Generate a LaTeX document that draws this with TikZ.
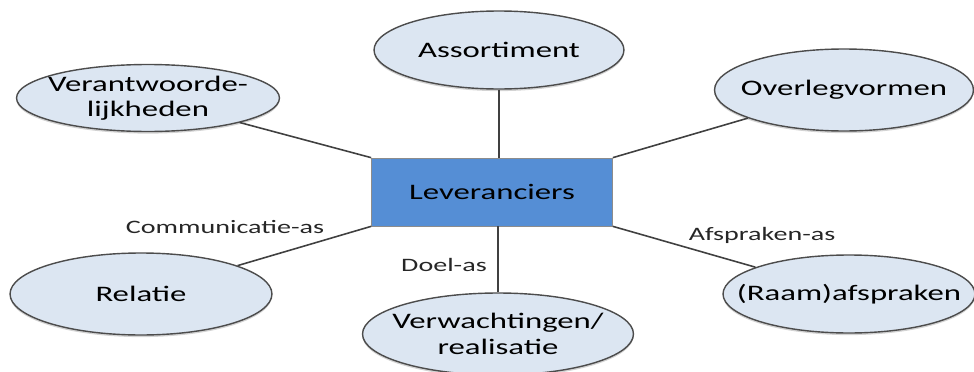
\documentclass[tikz,border=0pt]{standalone}
\usepackage{fontspec}
\setmainfont{Carlito}[FakeStretch=1.48]
\usepackage{tikz}
\usetikzlibrary{shapes.geometric,shadows}
\definecolor{levblue}{RGB}{85,142,213}
\definecolor{bubblefill}{RGB}{220,230,242}

\begin{document}
\begin{tikzpicture}[
  x=0.02cm, y=-0.02cm,
  bubble/.style={ellipse, draw=black!70, line width=0.8pt, fill=bubblefill, inner xsep=-20pt, inner ysep=0pt, align=center, font=\fontsize{12.6}{14.5}\selectfont, drop shadow={shadow xshift=0pt, shadow yshift=-1.2pt, opacity=0.35}},
  centre/.style={draw=black!45, fill=levblue, minimum width=4.82cm, minimum height=1.36cm, font=\fontsize{12.6}{14.5}\selectfont},
  link/.style={draw=black!75, line width=0.9pt},
  axis/.style={font=\fontsize{10.8}{12}\selectfont, text=black!85}
]
\useasboundingbox (0,0) rectangle (974,372);

\node[centre] (lev) at (492,192) {Leveranciers};

\node[bubble, minimum width=5cm, minimum height=1.56cm] (assort) at (499,50) {Assortiment};
\node[bubble, minimum width=5.26cm, minimum height=1.34cm] (verant) at (148,98) {Verantwoorde-\\lijkheden};
\node[bubble, minimum width=5.18cm, minimum height=1.64cm] (overleg) at (844,90) {Overlegvormen};
\node[bubble, minimum width=5.24cm, minimum height=1.64cm] (relatie) at (141,294) {Relatie};
\node[bubble, minimum width=5.42cm, minimum height=1.64cm] (verw) at (498,334) {Verwachtingen/\\realisatie};
\node[bubble, minimum width=5.04cm, minimum height=1.56cm] (raam) at (849,294) {(Raam)afspraken};

\draw[link] (assort) -- (assort |- lev.north);
\draw[link] (verw) -- (verw |- lev.south);
\draw[link] (lev.north west) -- (verant);
\draw[link] (lev.north east) -- (overleg);
\draw[link] (lev.south west) -- (relatie);
\draw[link] (lev.south east) -- (raam);

\node[axis] (comm) at (225,227) {Communicatie-as};
\node[axis] (doel) at (444,265) {Doel-as};
\node[axis] (afspr) at (762,235) {Afspraken-as};

\end{tikzpicture}
\end{document}
